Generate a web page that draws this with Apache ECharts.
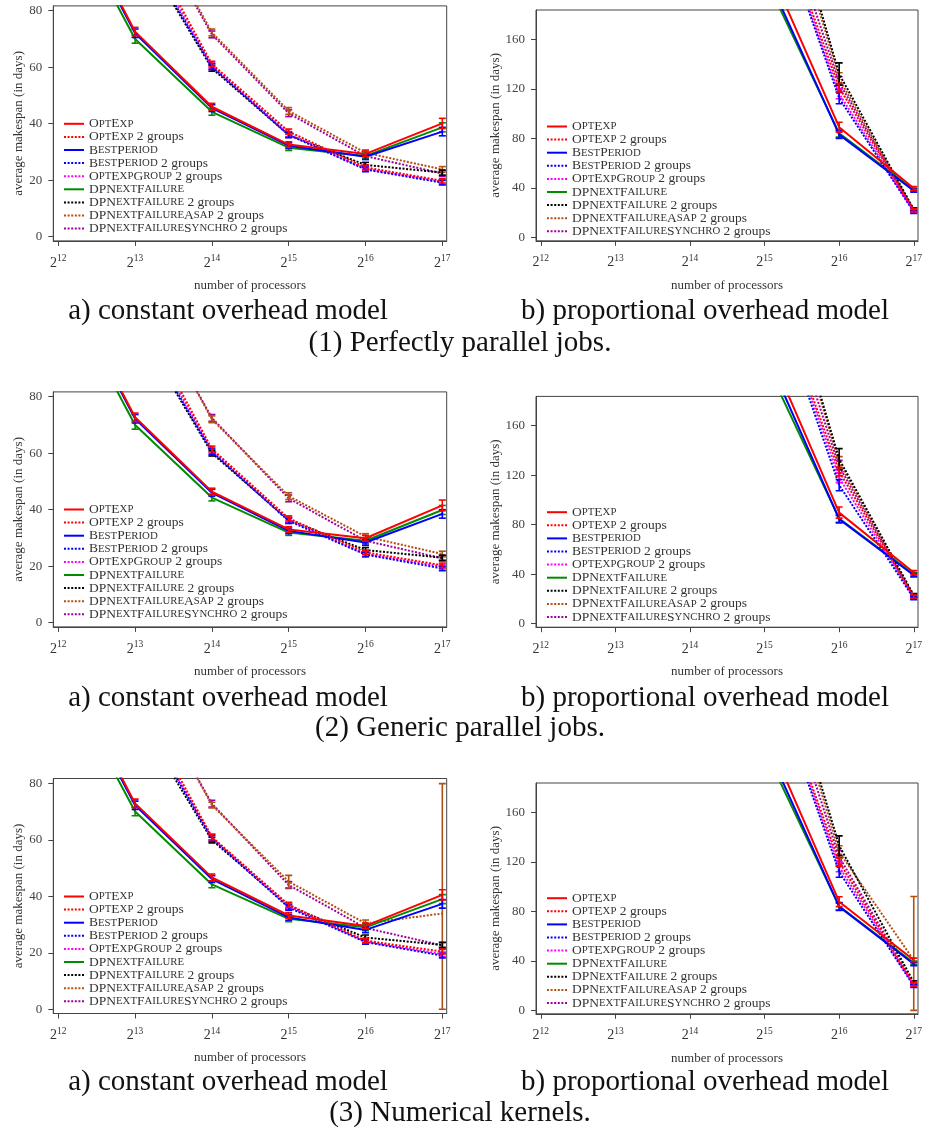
<!DOCTYPE html>
<html><head><meta charset="utf-8">
<script src="https://cdn.jsdelivr.net/npm/echarts@6.0.0/dist/echarts.min.js"></script>
<style>html,body{margin:0;padding:0;background:#fff}#c{width:925px;height:1130px}</style>
</head><body><div id="c"></div>
<script>
// ---------- data ----------
const exponents = [12, 13, 14, 15, 16, 17];
const seriesNames = ['OptExp', 'OptExp 2 groups', 'BestPeriod', 'BestPeriod 2 groups', 'OptExpGroup 2 groups',
  'DPNextFailure', 'DPNextFailure 2 groups', 'DPNextFailureAsap 2 groups', 'DPNextFailureSynchro 2 groups'];
const seriesColors = ['#ff0000', '#ff0000', '#0000ff', '#0000ff', '#ff00ff', '#008b00', '#000000', '#b4500f', '#a000a0'];
const seriesDotted = [false, true, false, true, true, false, true, true, true];
const yTicksConstant = [0, 20, 40, 60, 80];
const yTicksProportional = [0, 40, 80, 120, 160];
const subTitleA = 'a) constant overhead model';
const subTitleB = 'b) proportional overhead model';
const rowTitles = ['(1) Perfectly parallel jobs.', '(2) Generic parallel jobs.', '(3) Numerical kernels.'];

// (1) perfectly parallel, constant overhead
const vals1a = [
  [125, 72.6, 46.0, 32.6, 29.3, 40.1],
  [null, 111, 61.1, 37.2, 24.5, 19.8],
  [124, 72.0, 45.5, 32.2, 28.3, 37.2],
  [null, 106, 60.2, 36.0, 23.8, 19.1],
  [null, 108, 60.5, 36.3, 24.0, 19.4],
  [121, 70.0, 44.2, 31.5, 28.6, 38.7],
  [null, 105, 59.6, 36.0, 25.4, 22.7],
  [null, 122, 72.3, 44.5, 29.7, 23.8],
  [null, 120, 71.6, 43.7, 28.5, 22.4]
];
const errs1a = [
  [2, 1.5, 1.2, 1.0, 1.0, 1.8],
  [1, 1.0, 1.0, 0.9, 0.8, 0.8],
  [2, 1.5, 1.2, 1.0, 1.0, 1.5],
  [1, 1.0, 1.0, 0.9, 0.8, 0.8],
  [1, 1.0, 1.0, 0.9, 0.8, 0.8],
  [2, 1.5, 1.2, 1.0, 1.0, 1.6],
  [1, 1.0, 1.0, 0.9, 0.9, 0.9],
  [1, 1.0, 1.2, 1.2, 1.0, 1.0],
  [1, 1.0, 1.2, 1.2, 1.0, 1.0]
];
// (1) perfectly parallel, proportional overhead
const vals1b = [
  [null, null, null, 226, 89.0, 39.6],
  [null, null, null, 289, 121, 22.0],
  [null, null, null, 216, 83.0, 37.7],
  [null, null, null, 285, 112.5, 20.5],
  [null, null, null, 287, 116, 21.0],
  [null, null, null, 211, 84.0, 38.6],
  [null, null, null, 340, 132, 22.6],
  [null, null, null, 335, 128, 22.0],
  [null, null, null, 306, 125, 21.5]
];
const errs1b = [
  [0, 0, 0, 6, 4.0, 1.5],
  [0, 0, 0, 6, 3.5, 1.2],
  [0, 0, 0, 6, 3.0, 1.3],
  [0, 0, 0, 8, 4.5, 1.2],
  [0, 0, 0, 8, 4.0, 1.2],
  [0, 0, 0, 6, 3.0, 1.3],
  [0, 0, 0, 12, 9.0, 1.3],
  [0, 0, 0, 10, 5.0, 1.2],
  [0, 0, 0, 10, 5.0, 1.2]
];
// (2) generic parallel, constant overhead
const vals2a = [
  [125, 72.7, 46.4, 33.0, 29.9, 41.5],
  [null, 112, 61.5, 36.9, 24.9, 20.3],
  [124, 72.2, 46.0, 32.5, 28.4, 38.5],
  [null, 107, 60.5, 36.0, 24.1, 19.2],
  [null, 109, 61.0, 36.4, 24.3, 19.8],
  [121, 70.0, 44.3, 31.9, 29.0, 39.9],
  [null, 106, 60.0, 36.3, 25.7, 23.0],
  [null, 122, 72.0, 44.8, 30.5, 24.3],
  [null, 121, 72.5, 44.0, 29.0, 22.8]
];
const errs2a = [
  [2, 1.5, 1.2, 1.0, 1.0, 1.9],
  [1, 1.0, 1.0, 0.9, 0.8, 0.8],
  [2, 1.5, 1.2, 1.0, 1.0, 1.5],
  [1, 1.0, 1.0, 0.9, 0.8, 0.8],
  [1, 1.0, 1.0, 0.9, 0.8, 0.8],
  [2, 1.5, 1.2, 1.0, 1.0, 1.6],
  [1, 1.0, 1.0, 0.9, 0.9, 0.9],
  [1, 1.0, 1.2, 1.2, 1.0, 1.0],
  [1, 1.0, 1.2, 1.2, 1.0, 1.0]
];
// (2) generic parallel, proportional overhead
const vals2b = [
  [null, null, null, 229, 89.8, 41.4],
  [null, null, null, 292, 123, 22.0],
  [null, null, null, 221, 84.5, 39.2],
  [null, null, null, 287, 112, 20.7],
  [null, null, null, 290, 118, 21.2],
  [null, null, null, 213, 85.0, 40.0],
  [null, null, null, 338, 133, 23.0],
  [null, null, null, 335, 130, 22.5],
  [null, null, null, 312, 127, 22.0]
];
const errs2b = [
  [0, 0, 0, 6, 4.5, 1.5],
  [0, 0, 0, 6, 3.5, 1.2],
  [0, 0, 0, 6, 3.0, 1.3],
  [0, 0, 0, 8, 4.5, 1.2],
  [0, 0, 0, 8, 4.0, 1.2],
  [0, 0, 0, 6, 3.0, 1.3],
  [0, 0, 0, 12, 8.5, 1.3],
  [0, 0, 0, 10, 5.0, 1.2],
  [0, 0, 0, 10, 5.0, 1.2]
];
// (3) numerical kernels, constant overhead
const vals3a = [
  [125, 72.9, 46.7, 33.2, 29.5, 40.5],
  [null, 111, 61.0, 37.0, 24.3, 20.4],
  [124, 72.2, 46.1, 32.5, 28.1, 37.3],
  [null, 107, 60.5, 36.0, 23.8, 19.0],
  [null, 108, 60.8, 36.5, 24.0, 19.5],
  [121, 70.0, 44.2, 32.0, 29.0, 39.0],
  [null, 105, 59.9, 36.5, 25.4, 22.8],
  [null, 122, 72.3, 45.2, 30.4, 33.9],
  [null, 121, 72.8, 44.0, 28.8, 22.6]
];
const errs3a = [
  [2, 1.5, 1.2, 1.0, 1.0, 1.8],
  [1, 1.0, 1.0, 0.9, 0.8, 0.8],
  [2, 1.5, 1.2, 1.0, 1.0, 1.5],
  [1, 1.0, 1.0, 0.9, 0.8, 0.8],
  [1, 1.0, 1.0, 0.9, 0.8, 0.8],
  [2, 1.5, 1.2, 1.0, 1.0, 1.6],
  [1, 1.0, 1.0, 0.9, 0.9, 0.9],
  [1, 1.0, 1.0, 2.2, 1.2, 46],
  [1, 1.0, 1.2, 1.2, 1.0, 1.0]
];
// (3) numerical kernels, proportional overhead
const vals3b = [
  [null, null, null, 226, 87.8, 40.7],
  [null, null, null, 288, 120, 21.0],
  [null, null, null, 217, 83.8, 37.4],
  [null, null, null, 284, 112, 19.7],
  [null, null, null, 286, 116, 20.5],
  [null, null, null, 211, 84.0, 38.5],
  [null, null, null, 335, 133, 22.6],
  [null, null, null, 330, 128, 40.5],
  [null, null, null, 310, 124, 21.5]
];
const errs3b = [
  [0, 0, 0, 6, 4.0, 1.5],
  [0, 0, 0, 6, 3.5, 1.2],
  [0, 0, 0, 6, 3.0, 1.3],
  [0, 0, 0, 8, 4.5, 1.2],
  [0, 0, 0, 8, 4.0, 1.2],
  [0, 0, 0, 6, 3.0, 1.3],
  [0, 0, 0, 12, 8.0, 1.3],
  [0, 0, 0, 10, 5.0, 51.5],
  [0, 0, 0, 10, 5.0, 1.2]
];

// ---------- layout ----------
const FONT = 'Liberation Serif';
const TXT = '#333';
const AX = '#444';
const panelVals = [vals1a, vals1b, vals2a, vals2b, vals3a, vals3b];
const panelErrs = [errs1a, errs1b, errs2a, errs2b, errs3a, errs3b];
const layouts = [
  {kind: 'a', top: 5.9, legendTop: 116.8},
  {kind: 'b', top: 10, legendTop: 119.5},
  {kind: 'a', top: 391.9, legendTop: 502.5},
  {kind: 'b', top: 396.4, legendTop: 505.2},
  {kind: 'a', top: 778.5, legendTop: 889.5},
  {kind: 'b', top: 783, legendTop: 891.2}
];
const geom = {
  a: {left: 53.3, width: 393.4, height: 235, ymin: -1.5, ymax: 81.7, ticks: yTicksConstant, nameGap: 27, legendLeft: 63},
  b: {left: 536, width: 386.7, height: 230.8, ymin: -2.8, ymax: 183.7, ticks: yTicksProportional, nameGap: 34, legendLeft: 546}
};

function smallCaps(name) {
  const m = name.match(/^(\S+)(.*)$/);
  let out = '';
  const re = /([A-Z]+)|([a-z]+)/g;
  let t;
  while ((t = re.exec(m[1]))) {
    if (t[1]) out += '{c|' + t[1] + '}';
    else out += '{s|' + t[2].toUpperCase() + '}';
  }
  if (m[2]) out += '{n|' + m[2] + '}';
  return out;
}

function errRender(color) {
  return function (params, api) {
    const x = api.value(0), v = api.value(1), e = api.value(2);
    const lo = Math.max(0, v - e), hi = v + e;
    const p1 = api.coord([x, lo]), p2 = api.coord([x, hi]);
    const w = 3.5;
    const style = {stroke: color, lineWidth: 1.6, fill: null};
    return {
      type: 'group', children: [
        {type: 'line', shape: {x1: p1[0], y1: p1[1], x2: p2[0], y2: p2[1]}, style: style},
        {type: 'line', shape: {x1: p1[0] - w, y1: p1[1], x2: p1[0] + w, y2: p1[1]}, style: style},
        {type: 'line', shape: {x1: p2[0] - w, y1: p2[1], x2: p2[0] + w, y2: p2[1]}, style: style}
      ]
    };
  };
}

const grids = [], xAxes = [], yAxes = [], series = [], legends = [];
layouts.forEach(function (L, p) {
  const g = geom[L.kind];
  grids.push({left: g.left, top: L.top, width: g.width, height: g.height, show: true,
    borderColor: AX, borderWidth: 1, backgroundColor: 'transparent', containLabel: false});
  xAxes.push({
    type: 'value', gridIndex: p, min: 11.935, max: 17.057,
    axisLine: {show: true, onZero: false, lineStyle: {color: AX, width: 1}},
    axisTick: {show: true, inside: false, length: 5, customValues: exponents, lineStyle: {color: AX}},
    axisLabel: {
      customValues: exponents, margin: 13,
      formatter: function (v) { return '{b|2}{s|' + v + '}'; },
      rich: {
        b: {fontFamily: FONT, fontSize: 14, color: TXT, lineHeight: 18},
        s: {fontFamily: FONT, fontSize: 9.5, color: TXT, padding: [0, 0, 8, 0]}
      }
    },
    splitLine: {show: false},
    name: 'number of processors', nameLocation: 'middle', nameGap: 38,
    nameTextStyle: {fontFamily: FONT, fontSize: 13, color: TXT}
  });
  yAxes.push({
    type: 'value', gridIndex: p, min: g.ymin, max: g.ymax,
    axisLine: {show: true, onZero: false, lineStyle: {color: AX, width: 1}},
    axisTick: {show: true, inside: false, length: 5, customValues: g.ticks, lineStyle: {color: AX}},
    axisLabel: {customValues: g.ticks, margin: 11, fontFamily: FONT, fontSize: 13, color: '#444'},
    splitLine: {show: false},
    name: 'average makespan (in days)', nameLocation: 'middle', nameGap: g.nameGap, nameRotate: 90,
    nameTextStyle: {fontFamily: FONT, fontSize: 13, color: TXT}
  });
  const vals = panelVals[p], errs = panelErrs[p];
  seriesNames.forEach(function (name, s) {
    const lineData = exponents.map(function (x, i) { return [x, vals[s][i]]; });
    const errData = [];
    exponents.forEach(function (x, i) {
      if (vals[s][i] != null) errData.push([x, vals[s][i], errs[s][i]]);
    });
    const z = 20 - 2 * s;
    series.push({
      type: 'line', name: name, xAxisIndex: p, yAxisIndex: p, data: lineData,
      symbol: 'none', clip: true, animation: false, z: z,
      lineStyle: {color: seriesColors[s], width: 2, type: seriesDotted[s] ? [2, 1.6] : 'solid'},
      itemStyle: {color: seriesColors[s]}
    });
    series.push({
      type: 'custom', name: 'err-' + p + '-' + s, xAxisIndex: p, yAxisIndex: p, data: errData,
      encode: {x: 0, y: 1}, renderItem: errRender(seriesColors[s]), clip: true, animation: false, z: z + 1,
      silent: true
    });
  });
  legends.push({
    data: seriesNames.slice(), orient: 'vertical', left: g.legendLeft, top: L.legendTop,
    padding: 0, itemGap: -0.9, itemWidth: 20, itemHeight: 10, selectedMode: false,
    itemStyle: {opacity: 0},
    formatter: smallCaps,
    textStyle: {
      fontFamily: FONT, color: TXT,
      rich: {
        c: {fontFamily: FONT, fontSize: 13.5, color: TXT, lineHeight: 13},
        s: {fontFamily: FONT, fontSize: 10.8, color: TXT, lineHeight: 13},
        n: {fontFamily: FONT, fontSize: 13.5, color: TXT, lineHeight: 13}
      }
    }
  });
});

const graphics = [];
const rowSubY = [311, 698, 1082];
const rowTitleY = [343, 728, 1113];
const bigFont = '29px "' + FONT + '"';
rowTitles.forEach(function (t, r) {
  graphics.push({type: 'text', x: 228, y: rowSubY[r], style: {text: subTitleA, font: bigFont, fill: '#111', textAlign: 'center', textVerticalAlign: 'middle'}});
  graphics.push({type: 'text', x: 705, y: rowSubY[r], style: {text: subTitleB, font: bigFont, fill: '#111', textAlign: 'center', textVerticalAlign: 'middle'}});
  graphics.push({type: 'text', x: 460, y: rowTitleY[r], style: {text: t, font: bigFont, fill: '#111', textAlign: 'center', textVerticalAlign: 'middle'}});
});

const chart = echarts.init(document.getElementById('c'));
chart.setOption({
  animation: false,
  backgroundColor: '#fff',
  grid: grids, xAxis: xAxes, yAxis: yAxes, series: series, legend: legends,
  graphic: graphics
});
</script></body></html>
